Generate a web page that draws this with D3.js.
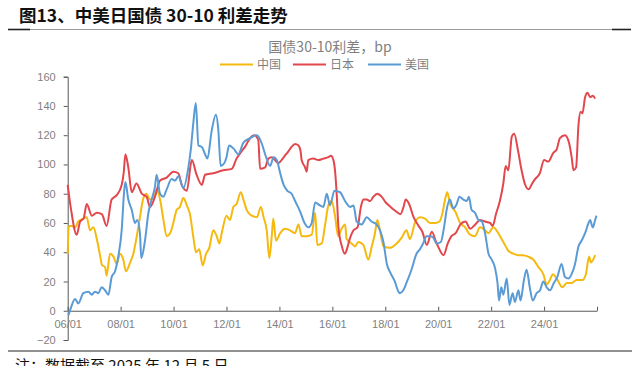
<!DOCTYPE html>
<html><head><meta charset="utf-8">
<script src="https://cdn.jsdelivr.net/npm/d3@7"></script>
<style>
html,body{margin:0;padding:0;background:#fff;}
svg{display:block;font-family:"Noto Sans CJK SC","Noto Sans",sans-serif;}
</style></head>
<body><svg id="c" width="638" height="366"></svg>
<script>
// ---- data (decimal years, values in bp) ----
const seriesNames = ["中国", "日本", "美国"];
const chinaYears = [2006.00,2006.04,2006.15,2006.28,2006.40,2006.59,2006.72,2006.84,2006.97,2007.10,2007.22,2007.30,2007.41,2007.47,2007.60,2007.73,2007.85,2007.98,2008.10,2008.20,2008.36,2008.48,2008.61,2008.73,2008.86,2008.98,2009.11,2009.24,2009.36,2009.49,2009.61,2009.74,2009.87,2009.99,2010.12,2010.24,2010.37,2010.50,2010.62,2010.75,2010.85,2010.97,2011.10,2011.23,2011.35,2011.50,2011.63,2011.73,2011.82,2012.00,2012.13,2012.26,2012.38,2012.54,2012.64,2012.76,2012.95,2013.15,2013.30,2013.40,2013.52,2013.62,2013.71,2013.77,2013.87,2014.03,2014.21,2014.40,2014.59,2014.72,2014.84,2015.03,2015.22,2015.35,2015.43,2015.60,2015.72,2015.85,2015.97,2016.10,2016.22,2016.35,2016.48,2016.54,2016.73,2016.86,2016.98,2017.17,2017.36,2017.49,2017.61,2017.70,2017.80,2017.93,2018.18,2018.43,2018.62,2018.80,2018.93,2019.12,2019.31,2019.50,2019.69,2019.88,2020.05,2020.15,2020.26,2020.34,2020.45,2020.64,2020.83,2021.02,2021.20,2021.39,2021.58,2021.77,2021.90,2022.08,2022.27,2022.46,2022.65,2022.84,2023.02,2023.20,2023.40,2023.59,2023.78,2023.97,2024.10,2024.22,2024.33,2024.48,2024.69,2024.86,2025.04,2025.23,2025.45,2025.58,2025.70,2025.77,2025.93];
const chinaValues = [39,58,58,57,61,63,64,55,57,49,38,31,30,24,39,37,32,39,35,27,33,39,51,64,77,80,76,77,83,76,63,51,53,60,69,71,77,72,66,50,40,42,31,39,43,55,51,46,53,65,62,71,73,81,76,69,65,64,71,64,55,36,51,63,48,53,56,55,53,59,51,51,52,67,45,46,58,72,75,65,51,56,59,49,46,44,47,45,35,44,53,62,55,44,43,46,50,55,49,60,64,63,60,60,61,66,76,81,73,68,60,57,52,51,57,55,53,57,53,47,41,39,38,38,37,35,30,25,18,21,25,22,16,19,19,21,21,25,37,33,38];

const japanYears = [2006.00,2006.12,2006.34,2006.47,2006.60,2006.72,2006.91,2007.10,2007.29,2007.47,2007.66,2007.85,2008.04,2008.12,2008.18,2008.29,2008.42,2008.60,2008.80,2008.98,2009.11,2009.30,2009.49,2009.74,2009.99,2010.18,2010.31,2010.50,2010.69,2010.87,2011.07,2011.19,2011.50,2011.88,2012.20,2012.38,2012.57,2012.70,2012.89,2013.05,2013.20,2013.27,2013.46,2013.58,2013.71,2013.83,2013.96,2014.08,2014.21,2014.34,2014.46,2014.59,2014.72,2014.80,2014.84,2014.97,2015.03,2015.09,2015.28,2015.47,2015.66,2015.85,2015.95,2016.04,2016.10,2016.17,2016.23,2016.36,2016.47,2016.55,2016.64,2016.80,2016.95,2017.08,2017.17,2017.30,2017.43,2017.55,2017.70,2017.86,2018.02,2018.20,2018.40,2018.57,2018.69,2018.77,2018.90,2019.07,2019.26,2019.40,2019.57,2019.76,2019.92,2020.02,2020.20,2020.36,2020.50,2020.66,2020.84,2021.03,2021.21,2021.40,2021.58,2021.77,2021.96,2022.06,2022.18,2022.33,2022.46,2022.55,2022.65,2022.78,2022.87,2023.02,2023.15,2023.27,2023.42,2023.55,2023.66,2023.84,2024.00,2024.16,2024.35,2024.47,2024.60,2024.79,2024.94,2025.05,2025.11,2025.21,2025.30,2025.38,2025.45,2025.55,2025.64,2025.74,2025.84,2025.93];
const japanValues = [86,70,52,61,63,73,65,67,66,58,76,79,86,95,107,98,81,87,80,78,71,78,89,91,95,94,86,82,103,93,86,93,94,96,97,104,109,112,118,120,117,97,98,104,105,103,101,103,106,109,112,114,113,109,103,98,95,103,104,103,104,105,106,103,96,78,57,44,39,42,48,55,57,71,76,76,75,78,80,78,74,71,68,66,71,76,73,64,58,54,45,54,47,43,38,46,51,53,59,61,56,59,62,61,60,58,66,75,87,99,96,119,121,109,96,87,83,87,90,94,103,102,108,110,118,120,115,104,96,98,127,136,135,146,149,146,147,145];

const usYears = [2006.03,2006.12,2006.28,2006.40,2006.59,2006.78,2006.91,2007.03,2007.16,2007.28,2007.41,2007.54,2007.66,2007.79,2007.91,2008.04,2008.13,2008.18,2008.29,2008.42,2008.54,2008.63,2008.73,2008.78,2008.92,2009.05,2009.17,2009.30,2009.36,2009.49,2009.61,2009.74,2009.93,2010.06,2010.18,2010.37,2010.56,2010.65,2010.75,2010.84,2010.94,2011.07,2011.19,2011.28,2011.44,2011.60,2011.69,2011.78,2011.92,2012.00,2012.10,2012.26,2012.45,2012.64,2012.90,2013.15,2013.34,2013.46,2013.65,2013.78,2013.90,2014.03,2014.16,2014.30,2014.46,2014.62,2014.78,2014.95,2015.10,2015.22,2015.35,2015.53,2015.66,2015.79,2015.91,2016.08,2016.29,2016.48,2016.67,2016.80,2016.92,2017.11,2017.30,2017.48,2017.67,2017.80,2017.93,2018.06,2018.19,2018.36,2018.50,2018.55,2018.68,2018.80,2018.99,2019.18,2019.31,2019.43,2019.56,2019.70,2019.81,2019.94,2020.10,2020.22,2020.32,2020.44,2020.57,2020.70,2020.80,2020.95,2021.08,2021.16,2021.26,2021.39,2021.52,2021.65,2021.77,2021.90,2022.02,2022.15,2022.24,2022.30,2022.38,2022.46,2022.59,2022.69,2022.81,2022.90,2023.03,2023.11,2023.24,2023.34,2023.46,2023.57,2023.72,2023.85,2023.97,2024.10,2024.22,2024.37,2024.50,2024.66,2024.79,2024.92,2025.04,2025.17,2025.30,2025.42,2025.55,2025.68,2025.74,2025.84,2025.93,2025.98];
const usValues = [-3,2,8,5,12,13,11,13,12,16,14,11,23,27,37,55,81,88,76,69,60,62,53,36,48,67,76,85,93,80,78,83,90,89,92,84,98,110,129,142,113,112,107,104,123,134,124,99,101,105,113,111,107,115,118,120,114,107,99,105,103,94,86,82,80,74,68,60,57,60,74,72,71,80,72,82,81,75,71,72,61,59,64,61,59,55,47,32,26,20,13,12,14,19,28,39,42,46,51,51,50,46,47,57,69,76,70,73,78,76,75,78,69,67,62,61,53,39,35,29,19,7,16,11,22,4,12,6,14,7,21,28,16,7,12,14,20,16,14,19,23,32,23,22,25,32,44,48,53,60,62,57,62,65];

const xTickYears = [2006,2008,2010,2012,2014,2016,2018,2020,2022,2024,2026];
const xTickLabels = ["06/01","08/01","10/01","12/01","14/01","16/01","18/01","20/01","22/01","24/01",""];
const yTicks = [-20,0,20,40,60,80,100,120,140,160];
const colors = ["#F5B90F", "#E2474D", "#5B9BD5"];

// ---- drawing ----
const svg = d3.select("#c");
const x = d3.scaleLinear().domain([2006, 2026]).range([67.7, 597]);
const y = d3.scaleLinear().domain([-20, 160]).range([340, 76.7]);

// title
svg.append("text").attr("x", 19).attr("y", 21.5)
  .attr("font-size", 17.5).attr("font-weight", "bold").attr("fill", "#111")
  .text("图13、中美日国债 30-10 利差走势");
svg.append("line").attr("x1", 8).attr("x2", 631).attr("y1", 29.5).attr("y2", 29.5)
  .attr("stroke", "#9a9a9a").attr("stroke-width", 1);
svg.append("line").attr("x1", 8).attr("x2", 30).attr("y1", 29.5).attr("y2", 29.5)
  .attr("stroke", "#222").attr("stroke-width", 1.6);
svg.append("line").attr("x1", 612).attr("x2", 631).attr("y1", 29.5).attr("y2", 29.5)
  .attr("stroke", "#222").attr("stroke-width", 1.6);

// chart title + legend
svg.append("text").attr("x", 330).attr("y", 52).attr("text-anchor", "middle")
  .attr("font-size", 14).attr("fill", "#7f7f7f").text("国债30-10利差，bp");
const legX = [220, 293, 368];
seriesNames.forEach((n, i) => {
  svg.append("line").attr("x1", legX[i]).attr("x2", legX[i] + 33)
    .attr("y1", 64.5).attr("y2", 64.5).attr("stroke", colors[i]).attr("stroke-width", 2.2);
  svg.append("text").attr("x", legX[i] + 37).attr("y", 69).attr("font-size", 12)
    .attr("fill", "#7f7f7f").text(n);
});

// axes
const yAxis = d3.axisLeft(y).tickValues(yTicks).tickSize(4).tickPadding(8)
  .tickFormat(d => d < 0 ? "\u2212" + Math.abs(d) : d);
const gy = svg.append("g").attr("transform", "translate(67.7,0)").call(yAxis);
gy.select(".domain").attr("stroke", "#595959");
gy.selectAll(".tick line").attr("stroke", "#595959");
gy.selectAll("text").attr("font-family", "Arial, 'Liberation Sans', sans-serif")
  .attr("font-size", 11).attr("fill", "#7f7f7f");

const xAxis = d3.axisBottom(x).tickValues(xTickYears).tickSize(-4).tickSizeOuter(0)
  .tickPadding(9).tickFormat((d, i) => xTickLabels[i]);
const gx = svg.append("g").attr("transform", `translate(0,${y(0)})`).call(xAxis);
gx.select(".domain").attr("stroke", "#595959");
gx.selectAll(".tick line").attr("stroke", "#595959");
gx.selectAll("text").attr("font-family", "Arial, 'Liberation Sans', sans-serif")
  .attr("font-size", 11).attr("fill", "#7f7f7f");

// lines
const line = d3.line().x(d => x(d[0])).y(d => y(d[1])).curve(d3.curveMonotoneX);
const allSeries = [
  d3.zip(chinaYears, chinaValues),
  d3.zip(japanYears, japanValues),
  d3.zip(usYears, usValues)
];
allSeries.forEach((s, i) => {
  svg.append("path").datum(s).attr("d", line).attr("fill", "none")
    .attr("stroke", colors[i]).attr("stroke-width", 2)
    .attr("stroke-linejoin", "round");
});

// footer
svg.append("line").attr("x1", 8).attr("x2", 632).attr("y1", 351).attr("y2", 351)
  .attr("stroke", "#222").attr("stroke-width", 1);
svg.append("text").attr("x", 15).attr("y", 370.5).attr("font-size", 15).attr("fill", "#111")
  .text("注：数据截至 2025 年 12 月 5 日");
</script></body></html>
